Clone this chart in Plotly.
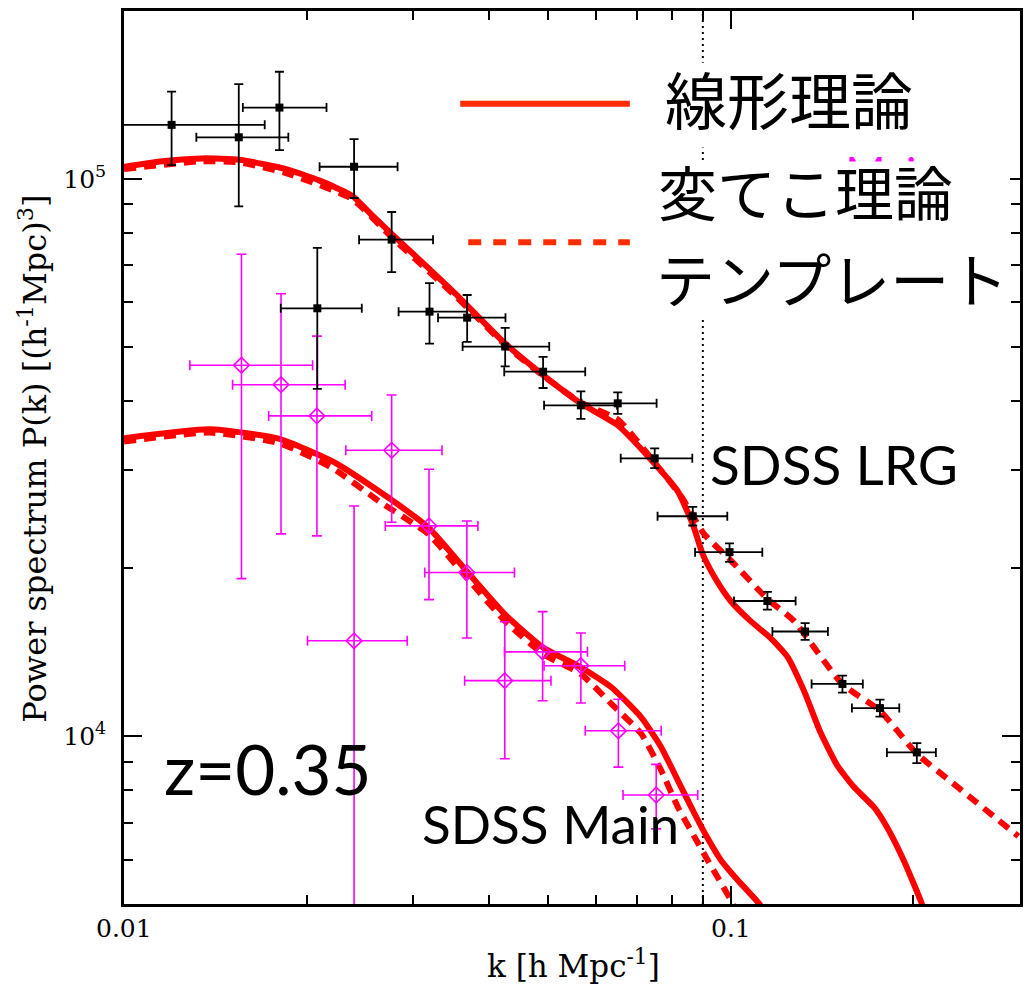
import math
import plotly.graph_objects as go

# ---------------- data ----------------
# SDSS LRG band powers
lrg_k    = [0.01198, 0.01546, 0.01804, 0.02083, 0.02395, 0.02762, 0.03189, 0.03679, 0.04250, 0.04908,
            0.05665, 0.06516, 0.07497, 0.08662, 0.0996, 0.1150, 0.1327, 0.1529, 0.1763, 0.2028]
lrg_p    = [124950, 118700, 134200, 58570, 105100, 77780, 57760, 56350, 50010, 45070,
            39230, 39550, 31520, 24810, 21390, 17480, 15410, 12410, 11230, 9352]
lrg_plo  = [105800, 89260, 112600, 41970, 92370, 68020, 50630, 50980, 46070, 42140,
            37100, 37870, 30270, 23880, 20550, 16870, 14890, 11970, 10840, 8949]
lrg_phi  = [143300, 147900, 155600, 75170, 117800, 87180, 65010, 61880, 54020, 47930,
            41550, 41390, 32850, 25780, 22170, 18150, 15950, 12840, 11630, 9716]
lrg_kmin = [0.0069, 0.01316, 0.01570, 0.01813, 0.02101, 0.02441, 0.02836, 0.03294, 0.03616, 0.04235,
            0.04926, 0.05678, 0.0659, 0.07579, 0.08739, 0.1013, 0.1172, 0.1360, 0.1585, 0.1810]
lrg_kmax = [0.01706, 0.01866, 0.02157, 0.02466, 0.02825, 0.03232, 0.03676, 0.04255, 0.05024, 0.05759,
            0.0650, 0.07551, 0.08647, 0.09876, 0.1128, 0.1280, 0.1447, 0.1652, 0.1897, 0.2180]

# SDSS Main band powers
main_k    = [0.01562, 0.01815, 0.02080, 0.02395, 0.02762, 0.03183, 0.03675, 0.04244, 0.04899, 0.05665,
             0.06531, 0.07540]
main_p    = [46290, 42720, 37550, 14830, 32580, 23840, 19660, 12580, 14170, 13380, 10225, 7843]
main_plo  = [19170, 23070, 22880, 3000, 24200, 17580, 15000, 9112, 11580, 11470, 8801, 6818]
main_phi  = [73240, 62210, 52210, 25880, 40950, 30130, 24320, 16040, 16730, 15320, 11650, 8901]
main_kmin = [0.01284, 0.01510, 0.01732, 0.02007, 0.02321, 0.02696, 0.03132, 0.03644, 0.04239, 0.04926,
             0.05759, 0.06648]
main_kmax = [0.02046, 0.02315, 0.02561, 0.02930, 0.03344, 0.03832, 0.04403, 0.05057, 0.05808, 0.06691,
             0.07684, 0.08827]

# model curves
lrg_lin_k = [0.01000, 0.01168, 0.01348, 0.01550, 0.01850, 0.02098, 0.02377, 0.02564, 0.02762, 0.03100,
             0.03518, 0.04250, 0.04908, 0.05665, 0.06522, 0.07389, 0.08185, 0.08662, 0.08995, 0.09449,
             0.1000, 0.1078, 0.1163, 0.1241, 0.1321, 0.1407, 0.1499, 0.1597, 0.1722, 0.1810, 0.1929,
             0.2067, 0.2146]
lrg_lin_p = [105100, 107600, 108800, 108200, 104100, 99340, 93280, 86020, 79650, 70880,
             62210, 50630, 44460, 39550, 36090, 31360, 27500, 24010, 21210, 19140,
             17480, 16100, 15010, 13880, 12070, 10150, 8862, 8105, 7465, 6875, 5993,
             5003, 4402]

lrg_tmp_k = [0.01, 0.01348, 0.01550, 0.01850, 0.02377, 0.02762, 0.03518, 0.04250, 0.04908, 0.05665,
             0.06522, 0.07493, 0.08288, 0.09053, 0.0996, 0.1150, 0.1272, 0.1527, 0.1762, 0.2028,
             0.2330, 0.2982]
lrg_tmp_p = [104100, 107550, 107000, 102400, 91990, 78580, 61630, 50360, 44330, 39660,
             36980, 30980, 26940, 23010, 20790, 17630, 16100, 12410, 11120, 9301,
             8220, 6614]

main_lin_k = [0.01, 0.01384, 0.01804, 0.02207, 0.02633, 0.03181, 0.03672, 0.04244, 0.04908, 0.05665,
              0.06360, 0.07124, 0.07684, 0.08185, 0.08718, 0.09167, 0.09641, 0.1027, 0.1115, 0.1172]
main_lin_p = [34240, 35530, 34160, 31110, 27500, 23640, 19780, 16550, 14430, 13290,
              12240, 10810, 9557, 8333, 7267, 6560, 5993, 5521, 5003, 4586]

main_tmp_k = [0.01, 0.01384, 0.01804, 0.02207, 0.02633, 0.03181, 0.03672, 0.04244, 0.04908, 0.05665,
              0.06360, 0.07124, 0.07684, 0.08185, 0.08718, 0.09167, 0.1008, 0.1046]
main_tmp_p = [33790, 35050, 33550, 30270, 26390, 23010, 19250, 16100, 14040, 12930,
              11430, 10100, 8683, 7465, 6598, 5993, 5003, 4493]

k_cut = 0.09            # dotted vertical reference line
x_range = [0.01, 0.3]
y_range = [5000, 200000]

x_major = [0.01, 0.1]
x_major_text = ["0.01", "0.1"]
x_minor = [0.02, 0.03, 0.04, 0.05, 0.06, 0.07, 0.08, 0.09, 0.2]
y_major = [1e4, 1e5]
y_major_text = ["10<sup>4</sup>", "10<sup>5</sup>"]
y_minor = [6000, 7000, 8000, 9000, 20000, 30000, 40000, 50000, 60000, 70000, 80000, 90000]

legend_texts = ["線形理論", "変てこ理論", "テンプレート"]

# ---------------- layout helpers ----------------
W, H = 1031, 986
L, R, T, B = 124, 1022, 8, 904
def px(x):
    return (x - L) / (R - L)
def py(y):
    return (B - y) / (B - T)

RED = "rgb(255,0,0)"
MAG = "rgb(255,0,255)"
LEG_RED = "rgb(255,45,0)"

fig = go.Figure()

# dotted reference line
fig.add_trace(go.Scatter(x=[k_cut, k_cut], y=y_range, mode="lines",
                         line=dict(color="black", width=2, dash="2px,4px"),
                         showlegend=False, hoverinfo="skip"))

# partially hidden magenta label (behind legend boxes)
fig.add_trace(go.Scatter(x=[0.1852], y=[100500], mode="text", text=["Main"],
                         textposition="middle center",
                         textfont=dict(family="Lato", size=43, color=MAG),
                         showlegend=False, hoverinfo="skip"))

# curves
for kk, pp, dash in [(lrg_lin_k, lrg_lin_p, "solid"), (lrg_tmp_k, lrg_tmp_p, "12px,8px"),
                     (main_lin_k, main_lin_p, "solid"), (main_tmp_k, main_tmp_p, "12px,8px")]:
    fig.add_trace(go.Scatter(x=kk, y=pp, mode="lines",
                             line=dict(color=RED, width=6, dash=dash, shape="spline", smoothing=0.5),
                             showlegend=False, hoverinfo="skip"))

# Main data
fig.add_trace(go.Scatter(
    x=main_k, y=main_p, mode="markers",
    marker=dict(symbol="diamond-open", size=12, color=MAG, line=dict(width=1.6, color=MAG)),
    error_x=dict(type="data", symmetric=False,
                 array=[b - a for a, b in zip(main_k, main_kmax)],
                 arrayminus=[a - b for a, b in zip(main_k, main_kmin)],
                 color=MAG, thickness=1.6, width=5),
    error_y=dict(type="data", symmetric=False,
                 array=[b - a for a, b in zip(main_p, main_phi)],
                 arrayminus=[a - b for a, b in zip(main_p, main_plo)],
                 color=MAG, thickness=1.6, width=5),
    showlegend=False))

# LRG data
fig.add_trace(go.Scatter(
    x=lrg_k, y=lrg_p, mode="markers",
    marker=dict(symbol="square", size=8, color="black"),
    error_x=dict(type="data", symmetric=False,
                 array=[b - a for a, b in zip(lrg_k, lrg_kmax)],
                 arrayminus=[a - b for a, b in zip(lrg_k, lrg_kmin)],
                 color="black", thickness=1.8, width=4.5),
    error_y=dict(type="data", symmetric=False,
                 array=[b - a for a, b in zip(lrg_p, lrg_phi)],
                 arrayminus=[a - b for a, b in zip(lrg_p, lrg_plo)],
                 color="black", thickness=1.8, width=4.5),
    showlegend=False))

shapes = [
    # white legend backgrounds (hide dotted line / magenta text)
    dict(type="rect", xref="paper", yref="paper", x0=px(655), x1=px(1012), y0=py(145), y1=py(60),
         fillcolor="white", line=dict(width=0), layer="above"),
    dict(type="rect", xref="paper", yref="paper", x0=px(655), x1=px(1012), y0=py(315), y1=py(159),
         fillcolor="white", line=dict(width=0), layer="above"),
    # legend line samples
    dict(type="line", xref="paper", yref="paper", x0=px(461), x1=px(631), y0=py(101), y1=py(101),
         line=dict(color=LEG_RED, width=6), layer="above"),
    dict(type="line", xref="paper", yref="paper", x0=px(469), x1=px(631), y0=py(240), y1=py(240),
         line=dict(color=LEG_RED, width=6, dash="13px,12px"), layer="above"),
]

cjk = "Noto Sans CJK JP"
annotations = [
    dict(text=legend_texts[0], x=px(664), y=py(95), xanchor="left", yanchor="middle",
         font=dict(family=cjk, size=62, color="black")),
    dict(text=legend_texts[1], x=px(657), y=py(188), xanchor="left", yanchor="middle",
         font=dict(family=cjk, size=59, color="black")),
    dict(text=legend_texts[2], x=px(655), y=py(275), xanchor="left", yanchor="middle",
         font=dict(family=cjk, size=59, color="black")),
    dict(text="SDSS LRG", x=px(709), y=py(463), xanchor="left", yanchor="middle",
         font=dict(family="Lato", size=55, color="black")),
    dict(text="SDSS Main", x=px(421), y=py(823), xanchor="left", yanchor="middle",
         font=dict(family="Lato", size=53, color="black")),
    dict(text="z=0.35", x=px(162), y=py(768), xanchor="left", yanchor="middle",
         font=dict(family="Lato", size=69, color="black")),
    dict(text="Power spectrum P(k) [(h<sup>-1</sup>Mpc)<sup>3</sup>]", textangle=-90,
         x=px(33), y=py(457), xanchor="center", yanchor="middle",
         font=dict(family="DejaVu Serif", size=32, color="black")),
    dict(text="k [h Mpc<sup>-1</sup>]", x=px(575), y=py(964), xanchor="center", yanchor="middle",
         font=dict(family="DejaVu Serif", size=31, color="black")),
]
for a in annotations:
    a.update(xref="paper", yref="paper", showarrow=False)

# x tick labels as annotations (placed on the x axis scale)
for v, t in zip(x_major, x_major_text):
    annotations.append(dict(text=t, x=math.log10(v), xref="x", y=py(929), yref="paper",
                            xanchor="center", yanchor="middle", showarrow=False,
                            font=dict(family="DejaVu Serif", size=25, color="black")))

axis_common = dict(showgrid=False, zeroline=False, showline=True, linecolor="black", linewidth=2.5,
                   mirror="ticks", ticks="inside", ticklen=18, tickwidth=2, tickcolor="black",
                   tickfont=dict(family="DejaVu Serif", size=25, color="black"))

fig.update_layout(
    width=W, height=H,
    margin=dict(l=L, r=W - R, t=T, b=H - B),
    paper_bgcolor="white", plot_bgcolor="white",
    showlegend=False,
    shapes=shapes, annotations=annotations,
    xaxis=dict(type="log", range=[-2, -0.52288], tickmode="array", tickvals=x_major,
               ticktext=x_major_text, showticklabels=False,
               minor=dict(tickmode="array", tickvals=x_minor, ticks="inside", ticklen=9,
                          tickwidth=2, tickcolor="black"),
               **axis_common),
    yaxis=dict(type="log", range=[3.69897, 5.30103], tickmode="array", tickvals=y_major,
               ticktext=y_major_text, ticklabelstandoff=10,
               minor=dict(tickmode="array", tickvals=y_minor, ticks="inside", ticklen=9,
                          tickwidth=2, tickcolor="black"),
               **axis_common),
)

fig.write_html("out.html")
